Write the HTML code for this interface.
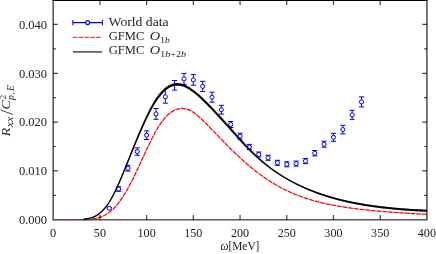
<!DOCTYPE html>
<html><head><meta charset="utf-8"><title>plot</title>
<style>html,body{margin:0;padding:0;background:#fff;}svg{display:block;}text{font-family:"Liberation Serif",serif;}</style>
</head><body>
<svg width="436" height="254" viewBox="0 0 436 254">
<rect x="0" y="0" width="436" height="254" fill="#fff"/>
<g stroke="#0000ff" stroke-width="1.0" fill="#fff">
<path d="M109.25,207.50 V209.10 M106.66,207.50 h5.2 M106.66,209.10 h5.2" fill="none"/>
<circle cx="109.25" cy="208.30" r="2.05"/>
<path d="M118.60,186.70 V191.30 M116.00,186.70 h5.2 M116.00,191.30 h5.2" fill="none"/>
<circle cx="118.60" cy="189.00" r="2.05"/>
<path d="M127.94,165.30 V171.10 M125.34,165.30 h5.2 M125.34,171.10 h5.2" fill="none"/>
<circle cx="127.94" cy="168.20" r="2.05"/>
<path d="M137.28,147.90 V155.30 M134.68,147.90 h5.2 M134.68,155.30 h5.2" fill="none"/>
<circle cx="137.28" cy="151.60" r="2.05"/>
<path d="M146.62,130.90 V139.50 M144.03,130.90 h5.2 M144.03,139.50 h5.2" fill="none"/>
<circle cx="146.62" cy="135.20" r="2.05"/>
<path d="M155.97,108.50 V119.30 M153.37,108.50 h5.2 M153.37,119.30 h5.2" fill="none"/>
<circle cx="155.97" cy="113.90" r="2.05"/>
<path d="M165.31,90.40 V103.20 M162.71,103.20 h5.2" fill="none"/>
<circle cx="165.31" cy="96.80" r="2.05"/>
<path d="M174.65,80.50 V90.10 M172.05,80.50 h5.2 M172.05,90.10 h5.2" fill="none"/>
<path d="M184.00,73.40 V84.40 M181.40,73.40 h5.2 M181.40,84.40 h5.2" fill="none"/>
<circle cx="184.00" cy="78.90" r="2.05"/>
<path d="M193.34,74.60 V85.20 M190.74,74.60 h5.2 M190.74,85.20 h5.2" fill="none"/>
<circle cx="193.34" cy="79.90" r="2.05"/>
<path d="M202.68,81.30 V91.50 M200.08,81.30 h5.2 M200.08,91.50 h5.2" fill="none"/>
<circle cx="202.68" cy="86.40" r="2.05"/>
<path d="M212.02,92.20 V102.20 M209.42,92.20 h5.2 M209.42,102.20 h5.2" fill="none"/>
<circle cx="212.02" cy="97.20" r="2.05"/>
<path d="M221.37,105.30 V114.10 M218.77,105.30 h5.2 M218.77,114.10 h5.2" fill="none"/>
<circle cx="221.37" cy="109.70" r="2.05"/>
<path d="M230.71,121.50 V127.50 M228.11,121.50 h5.2 M228.11,127.50 h5.2" fill="none"/>
<circle cx="230.71" cy="124.50" r="2.05"/>
<path d="M240.05,133.20 V139.20 M237.45,133.20 h5.2 M237.45,139.20 h5.2" fill="none"/>
<circle cx="240.05" cy="136.20" r="2.05"/>
<path d="M249.39,144.40 V149.60 M246.79,144.40 h5.2 M246.79,149.60 h5.2" fill="none"/>
<circle cx="249.39" cy="147.00" r="2.05"/>
<path d="M258.74,152.00 V157.00 M256.13,152.00 h5.2 M256.13,157.00 h5.2" fill="none"/>
<circle cx="258.74" cy="154.50" r="2.05"/>
<path d="M268.08,155.30 V160.30 M265.48,155.30 h5.2 M265.48,160.30 h5.2" fill="none"/>
<circle cx="268.08" cy="157.80" r="2.05"/>
<path d="M277.42,160.30 V165.30 M274.82,160.30 h5.2 M274.82,165.30 h5.2" fill="none"/>
<circle cx="277.42" cy="162.80" r="2.05"/>
<path d="M286.76,161.80 V166.80 M284.16,161.80 h5.2 M284.16,166.80 h5.2" fill="none"/>
<circle cx="286.76" cy="164.30" r="2.05"/>
<path d="M296.11,161.10 V166.10 M293.50,161.10 h5.2 M293.50,166.10 h5.2" fill="none"/>
<circle cx="296.11" cy="163.60" r="2.05"/>
<path d="M305.45,158.60 V163.60 M302.85,158.60 h5.2 M302.85,163.60 h5.2" fill="none"/>
<circle cx="305.45" cy="161.10" r="2.05"/>
<path d="M314.79,150.50 V155.90 M312.19,150.50 h5.2 M312.19,155.90 h5.2" fill="none"/>
<circle cx="314.79" cy="153.20" r="2.05"/>
<path d="M324.13,141.20 V147.20 M321.53,141.20 h5.2 M321.53,147.20 h5.2" fill="none"/>
<circle cx="324.13" cy="144.20" r="2.05"/>
<path d="M333.47,133.30 V141.30 M330.87,133.30 h5.2 M330.87,141.30 h5.2" fill="none"/>
<circle cx="333.47" cy="137.30" r="2.05"/>
<path d="M342.82,125.30 V133.90 M340.22,125.30 h5.2 M340.22,133.90 h5.2" fill="none"/>
<circle cx="342.82" cy="129.60" r="2.05"/>
<path d="M352.16,110.30 V119.30 M349.56,110.30 h5.2 M349.56,119.30 h5.2" fill="none"/>
<circle cx="352.16" cy="114.80" r="2.05"/>
<path d="M361.50,96.90 V106.90 M358.90,96.90 h5.2 M358.90,106.90 h5.2" fill="none"/>
<circle cx="361.50" cy="101.90" r="2.05"/>
</g>
<path d="M53.2,220.25 H92.30" fill="none" stroke="#ff0000" stroke-width="0.8" stroke-opacity="0.35"/>
<path d="M92.30,218.94 L92.97,218.84 L93.64,218.74 L94.31,218.63 L94.98,218.51 L95.65,218.38 L96.32,218.23 L96.99,218.08 L97.66,217.91 L98.33,217.73 L99.01,217.53 L99.68,217.32 L100.35,217.10 L101.02,216.86 L101.69,216.60 L102.36,216.32 L103.03,216.03 L103.70,215.72 L104.37,215.39 L105.04,215.04 L105.71,214.67 L106.38,214.28 L107.05,213.86 L107.72,213.43 L108.39,212.97 L109.06,212.48 L109.73,211.98 L110.40,211.45 L111.08,210.89 L111.75,210.32 L112.42,209.71 L113.09,209.08 L113.76,208.42 L114.43,207.74 L115.10,207.03 L115.77,206.30 L116.44,205.54 L117.11,204.75 L117.78,203.93 L118.45,203.09 L119.12,202.22 L119.79,201.32 L120.46,200.40 L121.13,199.44 L121.80,198.47 L122.47,197.46 L123.14,196.43 L123.82,195.37 L124.49,194.29 L125.16,193.18 L125.83,192.05 L126.50,190.89 L127.17,189.71 L127.84,188.51 L128.51,187.29 L129.18,186.05 L129.85,184.78 L130.52,183.50 L131.19,182.20 L131.86,180.89 L132.53,179.55 L133.20,178.21 L133.87,176.84 L134.54,175.47 L135.21,174.08 L135.89,172.69 L136.56,171.28 L137.23,169.86 L137.90,168.44 L138.57,167.01 L139.24,165.58 L139.91,164.14 L140.58,162.69 L141.25,161.25 L141.92,159.80 L142.59,158.36 L143.26,156.91 L143.93,155.47 L144.60,154.03 L145.27,152.59 L145.94,151.16 L146.61,149.73 L147.28,148.30 L147.95,146.89 L148.63,145.48 L149.30,144.08 L149.97,142.69 L150.64,141.31 L151.31,139.95 L151.98,138.60 L152.65,137.27 L153.32,135.96 L153.99,134.68 L154.66,133.42 L155.33,132.20 L156.00,130.99 L156.67,129.82 L157.34,128.68 L158.01,127.56 L158.68,126.48 L159.35,125.43 L160.02,124.41 L160.70,123.42 L161.37,122.46 L162.04,121.54 L162.71,120.65 L163.38,119.79 L164.05,118.97 L164.72,118.18 L165.39,117.42 L166.06,116.69 L166.73,116.00 L167.40,115.34 L168.07,114.71 L168.74,114.11 L169.41,113.54 L170.08,113.01 L170.75,112.50 L171.42,112.03 L172.09,111.58 L172.76,111.16 L173.44,110.78 L174.11,110.42 L174.78,110.09 L175.45,109.79 L176.12,109.52 L176.79,109.27 L177.46,109.06 L178.13,108.88 L178.80,108.73 L179.47,108.60 L180.14,108.51 L180.81,108.45 L181.48,108.41 L182.15,108.41 L182.82,108.43 L183.49,108.48 L184.16,108.56 L184.83,108.67 L185.51,108.80 L186.18,108.97 L186.85,109.16 L187.52,109.38 L188.19,109.62 L188.86,109.89 L189.53,110.19 L190.20,110.51 L190.87,110.86 L191.54,111.23 L192.21,111.63 L192.88,112.05 L193.55,112.49 L194.22,112.96 L194.89,113.45 L195.56,113.96 L196.23,114.48 L196.90,115.03 L197.57,115.59 L198.25,116.16 L198.92,116.75 L199.59,117.35 L200.26,117.97 L200.93,118.59 L201.60,119.23 L202.27,119.87 L202.94,120.52 L203.61,121.17 L204.28,121.83 L204.95,122.50 L205.62,123.17 L206.29,123.84 L206.96,124.51 L207.63,125.19 L208.30,125.87 L208.97,126.55 L209.64,127.24 L210.32,127.92 L210.99,128.61 L211.66,129.30 L212.33,129.99 L213.00,130.68 L213.67,131.37 L214.34,132.06 L215.01,132.76 L215.68,133.45 L216.35,134.14 L217.02,134.84 L217.69,135.53 L218.36,136.23 L219.03,136.92 L219.70,137.61 L220.37,138.30 L221.04,139.00 L221.71,139.69 L222.38,140.38 L223.06,141.06 L223.73,141.75 L224.40,142.44 L225.07,143.12 L225.74,143.80 L226.41,144.48 L227.08,145.16 L227.75,145.84 L228.42,146.51 L229.09,147.19 L229.76,147.86 L230.43,148.52 L231.10,149.19 L231.77,149.85 L232.44,150.51 L233.11,151.16 L233.78,151.82 L234.45,152.47 L235.13,153.12 L235.80,153.76 L236.47,154.40 L237.14,155.04 L237.81,155.67 L238.48,156.30 L239.15,156.93 L239.82,157.55 L240.49,158.17 L241.16,158.79 L241.83,159.40 L242.50,160.01 L243.17,160.61 L243.84,161.22 L244.51,161.81 L245.18,162.40 L245.85,162.99 L246.52,163.58 L247.19,164.16 L247.87,164.73 L248.54,165.31 L249.21,165.87 L249.88,166.44 L250.55,166.99 L251.22,167.55 L251.89,168.10 L252.56,168.65 L253.23,169.19 L253.90,169.72 L254.57,170.26 L255.24,170.78 L255.91,171.31 L256.58,171.83 L257.25,172.34 L257.92,172.85 L258.59,173.36 L259.26,173.86 L259.94,174.35 L260.61,174.84 L261.28,175.33 L261.95,175.81 L262.62,176.29 L263.29,176.77 L263.96,177.24 L264.63,177.70 L265.30,178.16 L265.97,178.62 L266.64,179.07 L267.31,179.51 L267.98,179.95 L268.65,180.39 L269.32,180.83 L269.99,181.25 L270.66,181.68 L271.33,182.10 L272.01,182.51 L272.68,182.92 L273.35,183.33 L274.02,183.73 L274.69,184.13 L275.36,184.52 L276.03,184.91 L276.70,185.30 L277.37,185.68 L278.04,186.05 L278.71,186.43 L279.38,186.79 L280.05,187.16 L280.72,187.52 L281.39,187.87 L282.06,188.22 L282.73,188.57 L283.40,188.91 L284.07,189.25 L284.75,189.59 L285.42,189.92 L286.09,190.25 L286.76,190.57 L287.43,190.89 L288.10,191.21 L288.77,191.52 L289.44,191.83 L290.11,192.13 L290.78,192.43 L291.45,192.73 L292.12,193.02 L292.79,193.31 L293.46,193.60 L294.13,193.88 L294.80,194.16 L295.47,194.43 L296.14,194.71 L296.82,194.97 L297.49,195.24 L298.16,195.50 L298.83,195.76 L299.50,196.01 L300.17,196.26 L300.84,196.51 L301.51,196.76 L302.18,197.00 L302.85,197.24 L303.52,197.47 L304.19,197.71 L304.86,197.93 L305.53,198.16 L306.20,198.38 L306.87,198.60 L307.54,198.82 L308.21,199.04 L308.88,199.25 L309.56,199.45 L310.23,199.66 L310.90,199.86 L311.57,200.06 L312.24,200.26 L312.91,200.45 L313.58,200.65 L314.25,200.83 L314.92,201.02 L315.59,201.20 L316.26,201.38 L316.93,201.56 L317.60,201.74 L318.27,201.91 L318.94,202.08 L319.61,202.25 L320.28,202.42 L320.95,202.58 L321.63,202.74 L322.30,202.90 L322.97,203.06 L323.64,203.22 L324.31,203.37 L324.98,203.52 L325.65,203.67 L326.32,203.82 L326.99,203.96 L327.66,204.10 L328.33,204.24 L329.00,204.38 L329.67,204.52 L330.34,204.66 L331.01,204.79 L331.68,204.92 L332.35,205.05 L333.02,205.18 L333.69,205.31 L334.37,205.43 L335.04,205.56 L335.71,205.68 L336.38,205.80 L337.05,205.92 L337.72,206.04 L338.39,206.15 L339.06,206.27 L339.73,206.38 L340.40,206.49 L341.07,206.60 L341.74,206.71 L342.41,206.82 L343.08,206.92 L343.75,207.03 L344.42,207.13 L345.09,207.24 L345.76,207.34 L346.44,207.44 L347.11,207.54 L347.78,207.63 L348.45,207.73 L349.12,207.83 L349.79,207.92 L350.46,208.01 L351.13,208.11 L351.80,208.20 L352.47,208.29 L353.14,208.38 L353.81,208.47 L354.48,208.55 L355.15,208.64 L355.82,208.72 L356.49,208.81 L357.16,208.89 L357.83,208.97 L358.50,209.05 L359.18,209.14 L359.85,209.21 L360.52,209.29 L361.19,209.37 L361.86,209.45 L362.53,209.53 L363.20,209.60 L363.87,209.68 L364.54,209.75 L365.21,209.82 L365.88,209.89 L366.55,209.97 L367.22,210.04 L367.89,210.11 L368.56,210.18 L369.23,210.25 L369.90,210.31 L370.57,210.38 L371.25,210.45 L371.92,210.51 L372.59,210.58 L373.26,210.64 L373.93,210.71 L374.60,210.77 L375.27,210.83 L375.94,210.90 L376.61,210.96 L377.28,211.02 L377.95,211.08 L378.62,211.14 L379.29,211.20 L379.96,211.26 L380.63,211.32 L381.30,211.37 L381.97,211.43 L382.64,211.49 L383.31,211.54 L383.99,211.60 L384.66,211.65 L385.33,211.71 L386.00,211.76 L386.67,211.82 L387.34,211.87 L388.01,211.92 L388.68,211.97 L389.35,212.03 L390.02,212.08 L390.69,212.13 L391.36,212.18 L392.03,212.23 L392.70,212.28 L393.37,212.33 L394.04,212.38 L394.71,212.43 L395.38,212.47 L396.06,212.52 L396.73,212.57 L397.40,212.62 L398.07,212.66 L398.74,212.71 L399.41,212.75 L400.08,212.80 L400.75,212.85 L401.42,212.89 L402.09,212.93 L402.76,212.98 L403.43,213.02 L404.10,213.07 L404.77,213.11 L405.44,213.15 L406.11,213.19 L406.78,213.24 L407.45,213.28 L408.12,213.32 L408.80,213.36 L409.47,213.40 L410.14,213.44 L410.81,213.48 L411.48,213.52 L412.15,213.56 L412.82,213.60 L413.49,213.64 L414.16,213.68 L414.83,213.72 L415.50,213.76 L416.17,213.80 L416.84,213.84 L417.51,213.87 L418.18,213.91 L418.85,213.95 L419.52,213.98 L420.19,214.02 L420.87,214.06 L421.54,214.09 L422.21,214.13 L422.88,214.17 L423.55,214.20 L424.22,214.24 L424.89,214.27 L425.56,214.31 L426.23,214.34 L426.90,214.38" fill="none" stroke="#ff0000" stroke-width="1.15" stroke-dasharray="4.6 1.1"/>
<path d="M92.30,218.94 L92.97,218.84 L93.64,218.74 L94.31,218.63 L94.98,218.51 L95.65,218.38 L96.32,218.23 L96.99,218.08 L97.66,217.91 L98.33,217.73 L99.01,217.53 L99.68,217.32 L100.35,217.10 L101.02,216.86 L101.69,216.60 L102.36,216.32 L103.03,216.03 L103.70,215.72 L104.37,215.39 L105.04,215.04 L105.71,214.67 L106.38,214.28 L107.05,213.86 L107.72,213.43 L108.39,212.97 L109.06,212.48 L109.73,211.98 L110.40,211.45 L111.08,210.89 L111.75,210.32 L112.42,209.71 L113.09,209.08 L113.76,208.42 L114.43,207.74 L115.10,207.03 L115.77,206.30 L116.44,205.54 L117.11,204.75 L117.78,203.93 L118.45,203.09 L119.12,202.22 L119.79,201.32 L120.46,200.40 L121.13,199.44 L121.80,198.47 L122.47,197.46 L123.14,196.43 L123.82,195.37 L124.49,194.29 L125.16,193.18 L125.83,192.05 L126.50,190.89 L127.17,189.71 L127.84,188.51 L128.51,187.29 L129.18,186.05 L129.85,184.78 L130.52,183.50 L131.19,182.20 L131.86,180.89 L132.53,179.55 L133.20,178.21 L133.87,176.84 L134.54,175.47 L135.21,174.08 L135.89,172.69 L136.56,171.28 L137.23,169.86 L137.90,168.44 L138.57,167.01 L139.24,165.58 L139.91,164.14 L140.58,162.69 L141.25,161.25 L141.92,159.80 L142.59,158.36 L143.26,156.91 L143.93,155.47 L144.60,154.03 L145.27,152.59 L145.94,151.16 L146.61,149.73 L147.28,148.30 L147.95,146.89 L148.63,145.48 L149.30,144.08 L149.97,142.69 L150.64,141.31 L151.31,139.95 L151.98,138.60 L152.65,137.27 L153.32,135.96 L153.99,134.68 L154.66,133.42 L155.33,132.20 L156.00,130.99 L156.67,129.82 L157.34,128.68 L158.01,127.56 L158.68,126.48 L159.35,125.43 L160.02,124.41 L160.70,123.42 L161.37,122.46 L162.04,121.54 L162.71,120.65 L163.38,119.79 L164.05,118.97 L164.72,118.18 L165.39,117.42 L166.06,116.69 L166.73,116.00 L167.40,115.34 L168.07,114.71 L168.74,114.11 L169.41,113.54 L170.08,113.01 L170.75,112.50 L171.42,112.03 L172.09,111.58 L172.76,111.16 L173.44,110.78 L174.11,110.42 L174.78,110.09 L175.45,109.79 L176.12,109.52 L176.79,109.27 L177.46,109.06 L178.13,108.88 L178.80,108.73 L179.47,108.60 L180.14,108.51 L180.81,108.45 L181.48,108.41 L182.15,108.41 L182.82,108.43 L183.49,108.48 L184.16,108.56 L184.83,108.67 L185.51,108.80 L186.18,108.97 L186.85,109.16 L187.52,109.38 L188.19,109.62 L188.86,109.89 L189.53,110.19 L190.20,110.51 L190.87,110.86 L191.54,111.23 L192.21,111.63 L192.88,112.05 L193.55,112.49 L194.22,112.96 L194.89,113.45 L195.56,113.96 L196.23,114.48 L196.90,115.03 L197.57,115.59 L198.25,116.16 L198.92,116.75 L199.59,117.35 L200.26,117.97 L200.93,118.59 L201.60,119.23 L202.27,119.87 L202.94,120.52 L203.61,121.17 L204.28,121.83 L204.95,122.50 L205.62,123.17 L206.29,123.84 L206.96,124.51 L207.63,125.19 L208.30,125.87 L208.97,126.55 L209.64,127.24 L210.32,127.92 L210.99,128.61 L211.66,129.30 L212.33,129.99 L213.00,130.68 L213.67,131.37 L214.34,132.06 L215.01,132.76 L215.68,133.45 L216.35,134.14 L217.02,134.84 L217.69,135.53 L218.36,136.23 L219.03,136.92 L219.70,137.61 L220.37,138.30 L221.04,139.00 L221.71,139.69 L222.38,140.38 L223.06,141.06 L223.73,141.75 L224.40,142.44 L225.07,143.12 L225.74,143.80 L226.41,144.48 L227.08,145.16 L227.75,145.84 L228.42,146.51 L229.09,147.19 L229.76,147.86 L230.43,148.52 L231.10,149.19 L231.77,149.85 L232.44,150.51 L233.11,151.16 L233.78,151.82 L234.45,152.47 L235.13,153.12 L235.80,153.76 L236.47,154.40 L237.14,155.04 L237.81,155.67 L238.48,156.30 L239.15,156.93 L239.82,157.55 L240.49,158.17 L241.16,158.79 L241.83,159.40 L242.50,160.01 L243.17,160.61 L243.84,161.22 L244.51,161.81 L245.18,162.40 L245.85,162.99 L246.52,163.58 L247.19,164.16 L247.87,164.73 L248.54,165.31 L249.21,165.87 L249.88,166.44 L250.55,166.99 L251.22,167.55 L251.89,168.10 L252.56,168.65 L253.23,169.19 L253.90,169.72 L254.57,170.26 L255.24,170.78 L255.91,171.31 L256.58,171.83 L257.25,172.34 L257.92,172.85 L258.59,173.36 L259.26,173.86 L259.94,174.35 L260.61,174.84 L261.28,175.33 L261.95,175.81 L262.62,176.29 L263.29,176.77 L263.96,177.24 L264.63,177.70 L265.30,178.16 L265.97,178.62 L266.64,179.07 L267.31,179.51 L267.98,179.95 L268.65,180.39 L269.32,180.83 L269.99,181.25 L270.66,181.68 L271.33,182.10 L272.01,182.51 L272.68,182.92 L273.35,183.33 L274.02,183.73 L274.69,184.13 L275.36,184.52 L276.03,184.91 L276.70,185.30 L277.37,185.68 L278.04,186.05 L278.71,186.43 L279.38,186.79 L280.05,187.16 L280.72,187.52 L281.39,187.87 L282.06,188.22 L282.73,188.57 L283.40,188.91 L284.07,189.25 L284.75,189.59 L285.42,189.92 L286.09,190.25 L286.76,190.57 L287.43,190.89 L288.10,191.21 L288.77,191.52 L289.44,191.83 L290.11,192.13 L290.78,192.43 L291.45,192.73 L292.12,193.02 L292.79,193.31 L293.46,193.60 L294.13,193.88 L294.80,194.16 L295.47,194.43 L296.14,194.71 L296.82,194.97 L297.49,195.24 L298.16,195.50 L298.83,195.76 L299.50,196.01 L300.17,196.26 L300.84,196.51 L301.51,196.76 L302.18,197.00 L302.85,197.24 L303.52,197.47 L304.19,197.71 L304.86,197.93 L305.53,198.16 L306.20,198.38 L306.87,198.60 L307.54,198.82 L308.21,199.04 L308.88,199.25 L309.56,199.45 L310.23,199.66 L310.90,199.86 L311.57,200.06 L312.24,200.26 L312.91,200.45 L313.58,200.65 L314.25,200.83 L314.92,201.02 L315.59,201.20 L316.26,201.38 L316.93,201.56 L317.60,201.74 L318.27,201.91 L318.94,202.08 L319.61,202.25 L320.28,202.42 L320.95,202.58 L321.63,202.74 L322.30,202.90 L322.97,203.06 L323.64,203.22 L324.31,203.37 L324.98,203.52 L325.65,203.67 L326.32,203.82 L326.99,203.96 L327.66,204.10 L328.33,204.24 L329.00,204.38 L329.67,204.52 L330.34,204.66 L331.01,204.79 L331.68,204.92 L332.35,205.05 L333.02,205.18 L333.69,205.31 L334.37,205.43 L335.04,205.56 L335.71,205.68 L336.38,205.80 L337.05,205.92 L337.72,206.04 L338.39,206.15 L339.06,206.27 L339.73,206.38 L340.40,206.49 L341.07,206.60 L341.74,206.71 L342.41,206.82 L343.08,206.92 L343.75,207.03 L344.42,207.13 L345.09,207.24 L345.76,207.34 L346.44,207.44 L347.11,207.54 L347.78,207.63 L348.45,207.73 L349.12,207.83 L349.79,207.92 L350.46,208.01 L351.13,208.11 L351.80,208.20 L352.47,208.29 L353.14,208.38 L353.81,208.47 L354.48,208.55 L355.15,208.64 L355.82,208.72 L356.49,208.81 L357.16,208.89 L357.83,208.97 L358.50,209.05 L359.18,209.14 L359.85,209.21 L360.52,209.29 L361.19,209.37 L361.86,209.45 L362.53,209.53 L363.20,209.60 L363.87,209.68 L364.54,209.75 L365.21,209.82 L365.88,209.89 L366.55,209.97 L367.22,210.04 L367.89,210.11 L368.56,210.18 L369.23,210.25 L369.90,210.31 L370.57,210.38 L371.25,210.45 L371.92,210.51 L372.59,210.58 L373.26,210.64 L373.93,210.71 L374.60,210.77 L375.27,210.83 L375.94,210.90 L376.61,210.96 L377.28,211.02 L377.95,211.08 L378.62,211.14 L379.29,211.20 L379.96,211.26 L380.63,211.32 L381.30,211.37 L381.97,211.43 L382.64,211.49 L383.31,211.54 L383.99,211.60 L384.66,211.65 L385.33,211.71 L386.00,211.76 L386.67,211.82 L387.34,211.87 L388.01,211.92 L388.68,211.97 L389.35,212.03 L390.02,212.08 L390.69,212.13 L391.36,212.18 L392.03,212.23 L392.70,212.28 L393.37,212.33 L394.04,212.38 L394.71,212.43 L395.38,212.47 L396.06,212.52 L396.73,212.57 L397.40,212.62 L398.07,212.66 L398.74,212.71 L399.41,212.75 L400.08,212.80 L400.75,212.85 L401.42,212.89 L402.09,212.93 L402.76,212.98 L403.43,213.02 L404.10,213.07 L404.77,213.11 L405.44,213.15 L406.11,213.19 L406.78,213.24 L407.45,213.28 L408.12,213.32 L408.80,213.36 L409.47,213.40 L410.14,213.44 L410.81,213.48 L411.48,213.52 L412.15,213.56 L412.82,213.60 L413.49,213.64 L414.16,213.68 L414.83,213.72 L415.50,213.76 L416.17,213.80 L416.84,213.84 L417.51,213.87 L418.18,213.91 L418.85,213.95 L419.52,213.98 L420.19,214.02 L420.87,214.06 L421.54,214.09 L422.21,214.13 L422.88,214.17 L423.55,214.20 L424.22,214.24 L424.89,214.27 L425.56,214.31 L426.23,214.34 L426.90,214.38" fill="none" stroke="#ff0000" stroke-width="1.15" stroke-opacity="0.3"/>
<path d="M83.24,218.67 L83.93,218.60 L84.61,218.53 L85.29,218.44 L85.97,218.35 L86.64,218.24 L87.32,218.12 L88.00,217.99 L88.68,217.85 L89.35,217.69 L90.03,217.51 L90.70,217.32 L91.38,217.11 L92.05,216.88 L92.72,216.63 L93.40,216.36 L94.07,216.07 L94.74,215.75 L95.41,215.40 L96.08,215.03 L96.76,214.63 L97.43,214.21 L98.10,213.75 L98.78,213.25 L99.45,212.73 L100.12,212.17 L100.80,211.58 L101.48,210.95 L102.15,210.28 L102.83,209.57 L103.51,208.82 L104.19,208.04 L104.87,207.21 L105.55,206.35 L106.23,205.44 L106.91,204.49 L107.59,203.50 L108.27,202.47 L108.96,201.40 L109.63,200.28 L110.31,199.13 L110.99,197.93 L111.67,196.70 L112.34,195.43 L113.02,194.12 L113.70,192.78 L114.38,191.40 L115.06,189.99 L115.74,188.55 L116.42,187.08 L117.10,185.58 L117.78,184.05 L118.46,182.50 L119.14,180.92 L119.82,179.32 L120.50,177.70 L121.18,176.07 L121.86,174.41 L122.54,172.75 L123.23,171.07 L123.91,169.38 L124.59,167.68 L125.27,165.97 L125.95,164.25 L126.63,162.54 L127.31,160.82 L128.00,159.10 L128.68,157.38 L129.36,155.66 L130.04,153.94 L130.72,152.23 L131.41,150.53 L132.09,148.83 L132.77,147.13 L133.45,145.45 L134.13,143.77 L134.82,142.10 L135.50,140.45 L136.18,138.80 L136.86,137.15 L137.53,135.52 L138.21,133.89 L138.88,132.27 L139.55,130.67 L140.23,129.07 L140.90,127.48 L141.58,125.91 L142.25,124.36 L142.92,122.81 L143.60,121.29 L144.27,119.78 L144.95,118.30 L145.63,116.83 L146.30,115.39 L146.98,113.96 L147.66,112.56 L148.33,111.19 L149.01,109.84 L149.69,108.51 L150.37,107.22 L151.07,105.96 L151.76,104.72 L152.46,103.52 L153.15,102.35 L153.85,101.20 L154.55,100.09 L155.24,99.01 L155.94,97.96 L156.64,96.95 L157.34,95.97 L158.05,95.02 L158.75,94.11 L159.45,93.23 L160.16,92.39 L160.88,91.58 L161.59,90.81 L162.30,90.08 L163.02,89.38 L163.74,88.72 L164.46,88.10 L165.18,87.51 L165.91,86.95 L166.63,86.44 L167.36,85.95 L168.09,85.51 L168.82,85.10 L169.55,84.73 L170.29,84.39 L171.02,84.09 L171.76,83.83 L172.50,83.60 L173.24,83.41 L173.98,83.25 L174.72,83.13 L175.46,83.04 L176.19,82.99 L176.93,82.97 L177.67,82.98 L178.40,83.03 L179.13,83.10 L179.86,83.21 L180.59,83.33 L181.32,83.49 L182.04,83.67 L182.77,83.89 L183.49,84.12 L184.21,84.38 L184.92,84.67 L185.64,84.98 L186.35,85.31 L187.07,85.67 L187.78,86.04 L188.48,86.44 L189.19,86.85 L189.90,87.28 L190.60,87.74 L191.31,88.20 L192.01,88.69 L192.71,89.19 L193.41,89.70 L194.11,90.23 L194.81,90.76 L195.52,91.31 L196.22,91.87 L196.92,92.44 L197.62,93.03 L198.32,93.62 L199.02,94.23 L199.72,94.85 L200.42,95.47 L201.12,96.11 L201.82,96.75 L202.52,97.41 L203.22,98.07 L203.92,98.73 L204.62,99.41 L205.31,100.09 L206.01,100.77 L206.71,101.46 L207.41,102.16 L208.10,102.86 L208.80,103.57 L209.49,104.28 L210.19,104.99 L210.89,105.71 L211.58,106.42 L212.28,107.14 L212.97,107.87 L213.67,108.59 L214.36,109.32 L215.05,110.05 L215.75,110.79 L216.44,111.52 L217.13,112.26 L217.83,113.00 L218.52,113.74 L219.21,114.49 L219.91,115.24 L220.60,115.98 L221.29,116.73 L221.99,117.49 L222.68,118.24 L223.37,119.00 L224.07,119.76 L224.76,120.52 L225.45,121.28 L226.15,122.04 L226.84,122.81 L227.53,123.57 L228.23,124.34 L228.92,125.11 L229.61,125.88 L230.30,126.65 L231.00,127.42 L231.69,128.20 L232.38,128.97 L233.08,129.75 L233.77,130.53 L234.46,131.30 L235.15,132.08 L235.85,132.86 L236.54,133.63 L237.23,134.41 L237.92,135.18 L238.61,135.95 L239.30,136.72 L239.99,137.48 L240.68,138.24 L241.37,139.00 L242.05,139.77 L242.73,140.53 L243.40,141.29 L244.08,142.04 L244.76,142.79 L245.44,143.54 L246.12,144.28 L246.80,145.01 L247.47,145.74 L248.15,146.46 L248.83,147.18 L249.51,147.89 L250.18,148.60 L250.86,149.30 L251.54,149.99 L252.21,150.68 L252.89,151.36 L253.57,152.03 L254.24,152.70 L254.92,153.36 L255.60,154.02 L256.28,154.67 L256.95,155.31 L257.63,155.95 L258.31,156.58 L258.98,157.20 L259.66,157.82 L260.34,158.43 L261.02,159.04 L261.69,159.64 L262.37,160.23 L263.05,160.82 L263.73,161.40 L264.40,161.98 L265.08,162.54 L265.76,163.11 L266.44,163.66 L267.12,164.21 L267.80,164.76 L268.48,165.30 L269.16,165.83 L269.83,166.36 L270.51,166.88 L271.19,167.40 L271.87,167.91 L272.55,168.42 L273.23,168.92 L273.91,169.42 L274.59,169.91 L275.27,170.39 L275.95,170.87 L276.63,171.35 L277.31,171.82 L277.99,172.28 L278.67,172.75 L279.35,173.20 L280.03,173.65 L280.71,174.10 L281.39,174.54 L282.07,174.98 L282.75,175.41 L283.43,175.84 L284.11,176.27 L284.79,176.69 L285.47,177.10 L286.15,177.51 L286.83,177.92 L287.52,178.32 L288.20,178.71 L288.89,179.10 L289.58,179.48 L290.26,179.86 L290.95,180.23 L291.63,180.60 L292.32,180.97 L293.01,181.33 L293.69,181.69 L294.38,182.04 L295.06,182.39 L295.75,182.74 L296.44,183.08 L297.12,183.42 L297.81,183.76 L298.49,184.09 L299.18,184.42 L299.87,184.75 L300.55,185.07 L301.24,185.39 L301.92,185.71 L302.61,186.02 L303.30,186.33 L303.98,186.64 L304.67,186.94 L305.36,187.24 L306.04,187.54 L306.73,187.83 L307.41,188.12 L308.10,188.41 L308.79,188.69 L309.47,188.97 L310.16,189.25 L310.84,189.53 L311.53,189.80 L312.22,190.07 L312.90,190.34 L313.59,190.60 L314.27,190.86 L314.96,191.12 L315.65,191.37 L316.33,191.63 L317.02,191.88 L317.70,192.12 L318.39,192.37 L319.08,192.61 L319.76,192.85 L320.45,193.09 L321.13,193.32 L321.82,193.56 L322.50,193.79 L323.19,194.01 L323.88,194.24 L324.56,194.46 L325.25,194.68 L325.93,194.89 L326.62,195.11 L327.31,195.32 L327.99,195.53 L328.68,195.74 L329.36,195.94 L330.05,196.15 L330.74,196.35 L331.42,196.55 L332.11,196.74 L332.79,196.94 L333.48,197.13 L334.17,197.32 L334.85,197.50 L335.54,197.69 L336.23,197.87 L336.91,198.05 L337.60,198.23 L338.28,198.41 L338.97,198.59 L339.66,198.76 L340.34,198.93 L341.03,199.10 L341.72,199.27 L342.40,199.43 L343.09,199.59 L343.78,199.76 L344.46,199.92 L345.15,200.07 L345.84,200.23 L346.52,200.38 L347.21,200.54 L347.89,200.69 L348.58,200.83 L349.27,200.98 L349.95,201.13 L350.64,201.27 L351.33,201.41 L352.01,201.55 L352.70,201.69 L353.39,201.83 L354.07,201.96 L354.76,202.10 L355.45,202.23 L356.13,202.36 L356.82,202.49 L357.51,202.62 L358.19,202.74 L358.88,202.87 L359.57,202.99 L360.26,203.11 L360.94,203.23 L361.63,203.35 L362.32,203.47 L363.00,203.58 L363.69,203.70 L364.38,203.81 L365.06,203.92 L365.75,204.03 L366.44,204.14 L367.12,204.25 L367.81,204.35 L368.50,204.46 L369.19,204.56 L369.87,204.67 L370.56,204.77 L371.25,204.87 L371.93,204.96 L372.62,205.06 L373.31,205.16 L374.00,205.25 L374.68,205.35 L375.37,205.44 L376.06,205.53 L376.74,205.62 L377.43,205.71 L378.12,205.80 L378.81,205.88 L379.49,205.97 L380.18,206.05 L380.87,206.14 L381.55,206.22 L382.24,206.30 L382.93,206.38 L383.62,206.46 L384.30,206.54 L384.99,206.62 L385.68,206.69 L386.37,206.77 L387.05,206.84 L387.74,206.91 L388.43,206.99 L389.12,207.06 L389.80,207.13 L390.49,207.20 L391.18,207.27 L391.86,207.33 L392.55,207.40 L393.24,207.46 L393.93,207.53 L394.61,207.59 L395.30,207.66 L395.99,207.72 L396.68,207.78 L397.36,207.84 L398.05,207.90 L398.74,207.96 L399.43,208.01 L400.11,208.07 L400.80,208.13 L401.49,208.18 L402.18,208.23 L402.86,208.29 L403.55,208.34 L404.24,208.39 L404.93,208.44 L405.62,208.49 L406.30,208.54 L406.99,208.59 L407.68,208.64 L408.37,208.68 L409.05,208.73 L409.74,208.78 L410.43,208.82 L411.12,208.86 L411.80,208.91 L412.49,208.95 L413.18,208.99 L413.87,209.03 L414.55,209.07 L415.24,209.11 L415.93,209.15 L416.62,209.19 L417.31,209.23 L417.99,209.26 L418.68,209.30 L419.37,209.33 L420.06,209.37 L420.74,209.40 L421.43,209.44 L422.12,209.47 L422.81,209.50 L423.50,209.53 L424.18,209.56 L424.87,209.59 L425.56,209.62 L426.25,209.65 L426.93,209.68 L426.85,211.78 L426.16,211.75 L425.47,211.72 L424.78,211.69 L424.09,211.66 L423.40,211.62 L422.71,211.59 L422.02,211.56 L421.33,211.53 L420.64,211.49 L419.95,211.46 L419.26,211.42 L418.57,211.38 L417.88,211.35 L417.19,211.31 L416.50,211.27 L415.81,211.23 L415.12,211.19 L414.43,211.15 L413.74,211.11 L413.05,211.07 L412.36,211.02 L411.68,210.98 L410.99,210.94 L410.30,210.89 L409.61,210.85 L408.92,210.80 L408.23,210.75 L407.54,210.70 L406.85,210.65 L406.16,210.60 L405.47,210.55 L404.78,210.50 L404.09,210.45 L403.40,210.40 L402.71,210.34 L402.02,210.29 L401.33,210.23 L400.64,210.18 L399.95,210.12 L399.26,210.06 L398.57,210.00 L397.88,209.95 L397.19,209.88 L396.50,209.82 L395.81,209.76 L395.12,209.70 L394.43,209.63 L393.74,209.57 L393.05,209.50 L392.36,209.44 L391.67,209.37 L390.98,209.30 L390.29,209.23 L389.60,209.16 L388.91,209.09 L388.22,209.02 L387.53,208.94 L386.84,208.87 L386.15,208.79 L385.46,208.72 L384.77,208.64 L384.08,208.56 L383.39,208.48 L382.69,208.40 L382.00,208.32 L381.31,208.24 L380.62,208.15 L379.93,208.07 L379.24,207.98 L378.55,207.89 L377.86,207.81 L377.17,207.72 L376.48,207.63 L375.79,207.54 L375.10,207.44 L374.41,207.35 L373.72,207.25 L373.03,207.16 L372.34,207.06 L371.65,206.96 L370.96,206.86 L370.27,206.76 L369.58,206.66 L368.89,206.55 L368.20,206.45 L367.51,206.34 L366.82,206.23 L366.13,206.12 L365.43,206.01 L364.74,205.90 L364.05,205.79 L363.36,205.67 L362.67,205.56 L361.98,205.44 L361.29,205.32 L360.60,205.20 L359.91,205.07 L359.22,204.95 L358.53,204.82 L357.84,204.69 L357.15,204.56 L356.46,204.42 L355.77,204.29 L355.08,204.15 L354.39,204.02 L353.70,203.88 L353.01,203.74 L352.32,203.60 L351.63,203.45 L350.94,203.31 L350.25,203.16 L349.56,203.01 L348.87,202.86 L348.18,202.71 L347.49,202.55 L346.80,202.40 L346.11,202.24 L345.42,202.08 L344.73,201.92 L344.04,201.76 L343.35,201.59 L342.66,201.42 L341.97,201.26 L341.28,201.08 L340.59,200.91 L339.90,200.74 L339.21,200.56 L338.52,200.38 L337.83,200.20 L337.14,200.02 L336.44,199.84 L335.75,199.65 L335.06,199.46 L334.37,199.27 L333.68,199.08 L332.99,198.88 L332.30,198.68 L331.61,198.48 L330.92,198.28 L330.23,198.08 L329.54,197.87 L328.85,197.66 L328.16,197.45 L327.47,197.24 L326.78,197.02 L326.09,196.80 L325.40,196.58 L324.71,196.36 L324.02,196.13 L323.33,195.91 L322.64,195.68 L321.95,195.44 L321.26,195.21 L320.57,194.97 L319.88,194.73 L319.19,194.49 L318.50,194.24 L317.81,193.99 L317.12,193.74 L316.43,193.49 L315.74,193.23 L315.05,192.97 L314.36,192.71 L313.67,192.44 L312.98,192.18 L312.29,191.91 L311.60,191.63 L310.91,191.36 L310.22,191.08 L309.53,190.80 L308.84,190.51 L308.15,190.22 L307.46,189.93 L306.77,189.64 L306.08,189.34 L305.39,189.04 L304.70,188.74 L304.01,188.43 L303.32,188.12 L302.63,187.80 L301.94,187.49 L301.25,187.17 L300.56,186.84 L299.87,186.52 L299.18,186.19 L298.49,185.85 L297.80,185.52 L297.11,185.18 L296.42,184.83 L295.73,184.48 L295.04,184.13 L294.36,183.78 L293.67,183.42 L292.98,183.06 L292.29,182.69 L291.60,182.32 L290.91,181.95 L290.22,181.57 L289.53,181.19 L288.84,180.80 L288.15,180.41 L287.46,180.02 L286.77,179.62 L286.08,179.22 L285.39,178.82 L284.69,178.42 L284.00,178.01 L283.31,177.59 L282.61,177.18 L281.92,176.75 L281.23,176.33 L280.53,175.89 L279.84,175.46 L279.15,175.02 L278.46,174.57 L277.76,174.12 L277.07,173.67 L276.38,173.20 L275.68,172.74 L274.99,172.27 L274.30,171.79 L273.60,171.31 L272.91,170.83 L272.22,170.33 L271.52,169.84 L270.83,169.34 L270.13,168.83 L269.44,168.31 L268.75,167.80 L268.05,167.27 L267.36,166.74 L266.67,166.21 L265.97,165.66 L265.28,165.12 L264.59,164.56 L263.89,164.00 L263.20,163.44 L262.50,162.87 L261.81,162.29 L261.11,161.71 L260.41,161.13 L259.72,160.53 L259.02,159.93 L258.32,159.33 L257.63,158.72 L256.93,158.10 L256.23,157.48 L255.54,156.84 L254.84,156.21 L254.14,155.56 L253.45,154.91 L252.75,154.26 L252.05,153.60 L251.36,152.93 L250.66,152.25 L249.96,151.57 L249.27,150.88 L248.57,150.19 L247.87,149.49 L247.18,148.78 L246.48,148.07 L245.78,147.35 L245.09,146.63 L244.39,145.90 L243.69,145.17 L243.00,144.43 L242.30,143.69 L241.61,142.94 L240.91,142.19 L240.21,141.43 L239.52,140.68 L238.82,139.91 L238.13,139.15 L237.44,138.38 L236.74,137.61 L236.05,136.84 L235.36,136.06 L234.66,135.29 L233.97,134.51 L233.28,133.74 L232.59,132.96 L231.89,132.18 L231.20,131.41 L230.51,130.63 L229.82,129.86 L229.13,129.08 L228.44,128.31 L227.74,127.54 L227.05,126.77 L226.36,126.01 L225.67,125.24 L224.98,124.47 L224.29,123.71 L223.60,122.95 L222.90,122.19 L222.21,121.43 L221.52,120.68 L220.83,119.92 L220.14,119.17 L219.45,118.42 L218.76,117.67 L218.07,116.93 L217.37,116.18 L216.68,115.44 L215.99,114.70 L215.30,113.96 L214.61,113.23 L213.92,112.50 L213.23,111.76 L212.54,111.04 L211.85,110.31 L211.16,109.59 L210.47,108.86 L209.78,108.14 L209.09,107.43 L208.40,106.71 L207.71,106.00 L207.02,105.29 L206.33,104.59 L205.64,103.89 L204.95,103.20 L204.27,102.51 L203.58,101.83 L202.89,101.16 L202.21,100.49 L201.52,99.83 L200.83,99.17 L200.15,98.53 L199.46,97.89 L198.78,97.27 L198.10,96.65 L197.41,96.05 L196.73,95.45 L196.05,94.87 L195.37,94.29 L194.69,93.73 L194.01,93.19 L193.33,92.65 L192.65,92.13 L191.97,91.63 L191.29,91.15 L190.61,90.69 L189.93,90.24 L189.25,89.81 L188.58,89.39 L187.91,89.00 L187.24,88.62 L186.57,88.27 L185.90,87.93 L185.24,87.62 L184.58,87.33 L183.93,87.06 L183.28,86.82 L182.63,86.60 L181.99,86.40 L181.35,86.23 L180.71,86.08 L180.08,85.96 L179.45,85.87 L178.83,85.78 L178.21,85.72 L177.59,85.67 L176.97,85.66 L176.35,85.67 L175.74,85.71 L175.12,85.78 L174.50,85.88 L173.88,86.00 L173.25,86.16 L172.62,86.35 L171.99,86.57 L171.36,86.82 L170.73,87.11 L170.08,87.43 L169.44,87.78 L168.79,88.17 L168.14,88.60 L167.49,89.06 L166.83,89.55 L166.17,90.09 L165.50,90.66 L164.84,91.27 L164.17,91.92 L163.49,92.60 L162.82,93.32 L162.14,94.08 L161.46,94.87 L160.76,95.69 L160.07,96.55 L159.37,97.44 L158.67,98.37 L157.97,99.34 L157.26,100.34 L156.56,101.37 L155.85,102.44 L155.15,103.54 L154.44,104.68 L153.73,105.85 L153.02,107.04 L152.31,108.27 L151.61,109.54 L150.92,110.83 L150.23,112.16 L149.54,113.51 L148.85,114.88 L148.15,116.28 L147.46,117.71 L146.77,119.15 L146.08,120.62 L145.38,122.11 L144.69,123.61 L143.99,125.14 L143.30,126.68 L142.61,128.23 L141.91,129.80 L141.22,131.38 L140.52,132.98 L139.83,134.58 L139.13,136.20 L138.44,137.82 L137.74,139.45 L137.05,141.09 L136.36,142.74 L135.67,144.41 L134.97,146.07 L134.28,147.75 L133.59,149.44 L132.90,151.13 L132.20,152.83 L131.51,154.54 L130.82,156.24 L130.13,157.96 L129.43,159.67 L128.74,161.39 L128.05,163.10 L127.35,164.82 L126.66,166.53 L125.97,168.23 L125.27,169.93 L124.58,171.62 L123.88,173.30 L123.19,174.96 L122.50,176.62 L121.80,178.25 L121.11,179.87 L120.41,181.47 L119.72,183.05 L119.02,184.61 L118.33,186.14 L117.64,187.64 L116.94,189.12 L116.24,190.56 L115.55,191.98 L114.85,193.36 L114.16,194.71 L113.46,196.02 L112.76,197.30 L112.07,198.54 L111.37,199.75 L110.67,200.91 L109.98,202.04 L109.28,203.12 L108.59,204.17 L107.89,205.18 L107.20,206.15 L106.50,207.08 L105.80,207.96 L105.10,208.81 L104.41,209.62 L103.71,210.39 L103.01,211.12 L102.31,211.81 L101.61,212.47 L100.90,213.08 L100.20,213.67 L99.50,214.21 L98.79,214.73 L98.09,215.21 L97.39,215.66 L96.68,216.07 L95.98,216.46 L95.27,216.82 L94.57,217.16 L93.86,217.47 L93.16,217.75 L92.45,218.01 L91.75,218.25 L91.05,218.47 L90.34,218.67 L89.64,218.85 L88.94,219.02 L88.24,219.17 L87.54,219.30 L86.84,219.42 L86.14,219.53 L85.45,219.63 L84.75,219.72 L84.05,219.80 L83.36,219.87Z" fill="#000" fill-opacity="0.5"/>
<path d="M83.24,218.67 L83.93,218.60 L84.61,218.53 L85.29,218.44 L85.97,218.35 L86.64,218.24 L87.32,218.12 L88.00,217.99 L88.68,217.85 L89.35,217.69 L90.03,217.51 L90.70,217.32 L91.38,217.11 L92.05,216.88 L92.72,216.63 L93.40,216.36 L94.07,216.07 L94.74,215.75 L95.41,215.40 L96.08,215.03 L96.76,214.63 L97.43,214.21 L98.10,213.75 L98.78,213.25 L99.45,212.73 L100.12,212.17 L100.80,211.58 L101.48,210.95 L102.15,210.28 L102.83,209.57 L103.51,208.82 L104.19,208.04 L104.87,207.21 L105.55,206.35 L106.23,205.44 L106.91,204.49 L107.59,203.50 L108.27,202.47 L108.96,201.40 L109.64,200.29 L110.32,199.13 L111.00,197.94 L111.68,196.71 L112.37,195.44 L113.05,194.14 L113.73,192.79 L114.42,191.42 L115.10,190.01 L115.79,188.57 L116.47,187.10 L117.16,185.60 L117.84,184.08 L118.52,182.53 L119.21,180.95 L119.89,179.35 L120.58,177.74 L121.27,176.10 L121.95,174.45 L122.64,172.78 L123.32,171.11 L124.01,169.42 L124.69,167.72 L125.38,166.01 L126.07,164.30 L126.75,162.59 L127.44,160.87 L128.12,159.15 L128.81,157.43 L129.50,155.71 L130.18,154.00 L130.87,152.29 L131.56,150.59 L132.24,148.89 L132.93,147.20 L133.62,145.52 L134.30,143.84 L134.99,142.18 L135.68,140.52 L136.36,138.87 L137.05,137.23 L137.74,135.60 L138.43,133.98 L139.11,132.37 L139.80,130.77 L140.49,129.18 L141.17,127.60 L141.86,126.04 L142.55,124.49 L143.24,122.96 L143.92,121.44 L144.61,119.94 L145.30,118.46 L145.99,117.00 L146.68,115.57 L147.36,114.15 L148.05,112.76 L148.74,111.40 L149.43,110.06 L150.12,108.74 L150.81,107.46 L151.50,106.20 L152.19,104.97 L152.89,103.77 L153.58,102.60 L154.27,101.47 L154.97,100.36 L155.66,99.29 L156.36,98.25 L157.05,97.24 L157.75,96.26 L158.44,95.32 L159.14,94.42 L159.84,93.55 L160.54,92.71 L161.24,91.91 L161.94,91.14 L162.64,90.41 L163.34,89.72 L164.05,89.06 L164.75,88.44 L165.46,87.85 L166.17,87.30 L166.88,86.79 L167.59,86.31 L168.30,85.87 L169.01,85.46 L169.73,85.09 L170.45,84.75 L171.16,84.45 L171.88,84.19 L172.60,83.96 L173.32,83.76 L174.05,83.60 L174.77,83.48 L175.49,83.38 L176.21,83.32 L176.94,83.30 L177.66,83.30 L178.38,83.34 L179.10,83.41 L179.82,83.50 L180.53,83.63 L181.25,83.78 L181.96,83.96 L182.68,84.17 L183.39,84.41 L184.10,84.66 L184.81,84.95 L185.52,85.25 L186.22,85.58 L186.93,85.93 L187.63,86.31 L188.34,86.70 L189.04,87.11 L189.74,87.54 L190.44,87.99 L191.14,88.45 L191.84,88.93 L192.53,89.43 L193.23,89.94 L193.93,90.47 L194.62,91.00 L195.32,91.56 L196.01,92.12 L196.71,92.70 L197.40,93.29 L198.10,93.89 L198.79,94.50 L199.48,95.12 L200.18,95.75 L200.87,96.38 L201.56,97.03 L202.25,97.69 L202.94,98.35 L203.64,99.02 L204.33,99.70 L205.02,100.38 L205.71,101.07 L206.40,101.77 L207.09,102.47 L207.78,103.18 L208.47,103.89 L209.16,104.60 L209.85,105.32 L210.54,106.04 L211.23,106.76 L211.92,107.48 L212.61,108.21 L213.30,108.94 L213.99,109.67 L214.68,110.41 L215.37,111.14 L216.06,111.88 L216.74,112.62 L217.43,113.37 L218.12,114.11 L218.81,114.86 L219.50,115.61 L220.19,116.36 L220.88,117.11 L221.57,117.87 L222.26,118.62 L222.95,119.38 L223.64,120.14 L224.33,120.91 L225.02,121.67 L225.70,122.44 L226.39,123.21 L227.08,123.97 L227.77,124.74 L228.46,125.52 L229.15,126.29 L229.84,127.07 L230.53,127.84 L231.22,128.62 L231.91,129.40 L232.59,130.18 L233.28,130.96 L233.97,131.74 L234.66,132.52 L235.35,133.30 L236.04,134.07 L236.73,134.85 L237.41,135.63 L238.10,136.40 L238.79,137.17 L239.48,137.94 L240.16,138.71 L240.85,139.47 L241.54,140.24 L242.22,140.99 L242.90,141.75 L243.59,142.50 L244.27,143.25 L244.95,143.99 L245.64,144.73 L246.32,145.46 L247.01,146.18 L247.69,146.91 L248.37,147.62 L249.06,148.33 L249.74,149.04 L250.42,149.73 L251.11,150.42 L251.79,151.11 L252.47,151.79 L253.16,152.46 L253.84,153.13 L254.52,153.78 L255.21,154.44 L255.89,155.08 L256.57,155.72 L257.25,156.36 L257.94,156.99 L258.62,157.61 L259.30,158.22 L259.99,158.83 L260.67,159.44 L261.35,160.03 L262.04,160.62 L262.72,161.21 L263.40,161.79 L264.09,162.36 L264.78,162.92 L265.46,163.48 L266.15,164.03 L266.83,164.58 L267.52,165.12 L268.21,165.65 L268.89,166.18 L269.58,166.70 L270.26,167.22 L270.95,167.73 L271.64,168.23 L272.32,168.73 L273.01,169.23 L273.69,169.72 L274.38,170.20 L275.07,170.68 L275.75,171.16 L276.44,171.63 L277.13,172.09 L277.81,172.55 L278.50,173.00 L279.18,173.45 L279.87,173.90 L280.56,174.34 L281.24,174.77 L281.93,175.21 L282.61,175.63 L283.30,176.05 L283.99,176.47 L284.67,176.88 L285.36,177.29 L286.05,177.70 L286.73,178.10 L287.42,178.49 L288.11,178.88 L288.79,179.26 L289.48,179.64 L290.17,180.02 L290.86,180.39 L291.55,180.76 L292.23,181.13 L292.92,181.49 L293.61,181.84 L294.30,182.20 L294.99,182.55 L295.67,182.89 L296.36,183.23 L297.05,183.57 L297.74,183.91 L298.42,184.24 L299.11,184.57 L299.80,184.89 L300.49,185.21 L301.18,185.53 L301.86,185.84 L302.55,186.15 L303.24,186.46 L303.93,186.77 L304.61,187.07 L305.30,187.36 L305.99,187.66 L306.68,187.95 L307.36,188.24 L308.05,188.52 L308.74,188.81 L309.43,189.09 L310.11,189.36 L310.80,189.63 L311.49,189.90 L312.18,190.17 L312.86,190.44 L313.55,190.70 L314.24,190.96 L314.93,191.21 L315.61,191.47 L316.30,191.72 L316.98,191.97 L317.67,192.22 L318.36,192.46 L319.04,192.71 L319.73,192.95 L320.41,193.18 L321.10,193.42 L321.79,193.65 L322.47,193.88 L323.16,194.11 L323.85,194.33 L324.53,194.55 L325.22,194.77 L325.90,194.99 L326.59,195.21 L327.28,195.42 L327.96,195.63 L328.65,195.83 L329.34,196.04 L330.02,196.24 L330.71,196.44 L331.39,196.64 L332.08,196.84 L332.77,197.03 L333.45,197.22 L334.14,197.41 L334.83,197.60 L335.51,197.79 L336.20,197.97 L336.89,198.15 L337.57,198.33 L338.26,198.51 L338.95,198.68 L339.63,198.86 L340.32,199.03 L341.01,199.20 L341.69,199.36 L342.38,199.53 L343.07,199.69 L343.75,199.85 L344.44,200.01 L345.13,200.17 L345.81,200.33 L346.50,200.48 L347.19,200.63 L347.87,200.78 L348.56,200.93 L349.25,201.08 L349.93,201.22 L350.62,201.37 L351.31,201.51 L351.99,201.65 L352.68,201.79 L353.37,201.93 L354.06,202.06 L354.74,202.20 L355.43,202.33 L356.12,202.46 L356.80,202.59 L357.49,202.71 L358.18,202.84 L358.86,202.97 L359.55,203.09 L360.24,203.21 L360.92,203.33 L361.61,203.45 L362.30,203.57 L362.99,203.68 L363.67,203.80 L364.36,203.91 L365.05,204.02 L365.73,204.13 L366.42,204.24 L367.11,204.35 L367.80,204.45 L368.48,204.56 L369.17,204.66 L369.86,204.76 L370.55,204.87 L371.23,204.97 L371.92,205.06 L372.61,205.16 L373.29,205.26 L373.98,205.35 L374.67,205.45 L375.36,205.54 L376.04,205.63 L376.73,205.72 L377.42,205.81 L378.11,205.90 L378.79,205.98 L379.48,206.07 L380.17,206.15 L380.86,206.24 L381.54,206.32 L382.23,206.40 L382.92,206.48 L383.60,206.56 L384.29,206.64 L384.98,206.72 L385.67,206.79 L386.35,206.87 L387.04,206.94 L387.73,207.01 L388.42,207.09 L389.10,207.16 L389.79,207.23 L390.48,207.30 L391.17,207.36 L391.86,207.43 L392.54,207.50 L393.23,207.56 L393.92,207.63 L394.61,207.69 L395.29,207.75 L395.98,207.82 L396.67,207.88 L397.36,207.94 L398.04,208.00 L398.73,208.05 L399.42,208.11 L400.11,208.17 L400.79,208.22 L401.48,208.28 L402.17,208.33 L402.86,208.39 L403.54,208.44 L404.23,208.49 L404.92,208.54 L405.61,208.59 L406.30,208.64 L406.98,208.69 L407.67,208.74 L408.36,208.78 L409.05,208.83 L409.73,208.88 L410.42,208.92 L411.11,208.96 L411.80,209.01 L412.49,209.05 L413.17,209.09 L413.86,209.13 L414.55,209.17 L415.24,209.21 L415.92,209.25 L416.61,209.29 L417.30,209.33 L417.99,209.36 L418.68,209.40 L419.36,209.43 L420.05,209.47 L420.74,209.50 L421.43,209.54 L422.12,209.57 L422.80,209.60 L423.49,209.63 L424.18,209.66 L424.87,209.69 L425.55,209.72 L426.24,209.75 L426.93,209.78 L426.85,211.68 L426.16,211.65 L425.47,211.62 L424.79,211.59 L424.10,211.56 L423.41,211.52 L422.72,211.49 L422.03,211.46 L421.34,211.43 L420.65,211.39 L419.96,211.36 L419.27,211.32 L418.58,211.28 L417.89,211.25 L417.20,211.21 L416.51,211.17 L415.82,211.13 L415.13,211.09 L414.44,211.05 L413.75,211.01 L413.06,210.97 L412.37,210.92 L411.68,210.88 L410.99,210.84 L410.30,210.79 L409.61,210.75 L408.92,210.70 L408.23,210.65 L407.54,210.60 L406.85,210.55 L406.16,210.51 L405.47,210.45 L404.78,210.40 L404.09,210.35 L403.40,210.30 L402.71,210.24 L402.02,210.19 L401.33,210.13 L400.65,210.08 L399.96,210.02 L399.27,209.96 L398.58,209.91 L397.89,209.85 L397.20,209.79 L396.51,209.72 L395.82,209.66 L395.13,209.60 L394.44,209.53 L393.75,209.47 L393.06,209.40 L392.37,209.34 L391.68,209.27 L390.99,209.20 L390.30,209.13 L389.61,209.06 L388.92,208.99 L388.23,208.92 L387.54,208.84 L386.85,208.77 L386.16,208.69 L385.47,208.62 L384.78,208.54 L384.09,208.46 L383.40,208.38 L382.71,208.30 L382.02,208.22 L381.33,208.14 L380.64,208.05 L379.95,207.97 L379.26,207.88 L378.57,207.80 L377.88,207.71 L377.19,207.62 L376.50,207.53 L375.80,207.44 L375.11,207.34 L374.42,207.25 L373.73,207.15 L373.04,207.06 L372.35,206.96 L371.66,206.86 L370.97,206.76 L370.28,206.66 L369.59,206.56 L368.90,206.45 L368.21,206.35 L367.52,206.24 L366.83,206.13 L366.14,206.02 L365.45,205.91 L364.76,205.80 L364.07,205.69 L363.38,205.57 L362.69,205.46 L362.00,205.34 L361.31,205.22 L360.62,205.10 L359.93,204.97 L359.24,204.85 L358.55,204.72 L357.86,204.59 L357.17,204.46 L356.48,204.33 L355.79,204.19 L355.10,204.06 L354.41,203.92 L353.72,203.78 L353.03,203.64 L352.34,203.50 L351.65,203.35 L350.96,203.21 L350.27,203.06 L349.58,202.91 L348.89,202.76 L348.20,202.61 L347.51,202.46 L346.82,202.30 L346.13,202.14 L345.44,201.98 L344.75,201.82 L344.06,201.66 L343.37,201.49 L342.68,201.33 L341.99,201.16 L341.30,200.99 L340.61,200.82 L339.92,200.64 L339.23,200.46 L338.54,200.29 L337.85,200.11 L337.16,199.92 L336.47,199.74 L335.78,199.55 L335.09,199.36 L334.40,199.17 L333.71,198.98 L333.02,198.78 L332.33,198.59 L331.64,198.39 L330.95,198.19 L330.26,197.98 L329.57,197.77 L328.88,197.57 L328.19,197.36 L327.50,197.14 L326.81,196.93 L326.12,196.71 L325.43,196.49 L324.74,196.27 L324.05,196.04 L323.36,195.81 L322.67,195.58 L321.98,195.35 L321.29,195.11 L320.61,194.88 L319.92,194.63 L319.23,194.39 L318.54,194.15 L317.85,193.90 L317.16,193.65 L316.47,193.39 L315.78,193.14 L315.09,192.88 L314.40,192.61 L313.71,192.35 L313.02,192.08 L312.33,191.81 L311.64,191.54 L310.95,191.26 L310.26,190.98 L309.57,190.70 L308.88,190.42 L308.19,190.13 L307.50,189.84 L306.81,189.54 L306.12,189.25 L305.43,188.95 L304.74,188.64 L304.05,188.34 L303.36,188.03 L302.67,187.71 L301.98,187.40 L301.29,187.08 L300.61,186.75 L299.92,186.43 L299.23,186.10 L298.54,185.76 L297.85,185.43 L297.16,185.09 L296.47,184.74 L295.78,184.40 L295.09,184.04 L294.40,183.69 L293.71,183.33 L293.02,182.97 L292.33,182.60 L291.64,182.23 L290.95,181.86 L290.27,181.48 L289.58,181.10 L288.89,180.72 L288.20,180.33 L287.51,179.93 L286.82,179.54 L286.13,179.14 L285.44,178.73 L284.75,178.33 L284.06,177.91 L283.37,177.50 L282.67,177.08 L281.98,176.65 L281.29,176.22 L280.60,175.79 L279.91,175.35 L279.22,174.91 L278.53,174.46 L277.84,174.01 L277.15,173.55 L276.46,173.09 L275.76,172.62 L275.07,172.15 L274.38,171.67 L273.69,171.19 L273.00,170.70 L272.31,170.20 L271.62,169.71 L270.93,169.20 L270.24,168.69 L269.54,168.18 L268.85,167.66 L268.16,167.13 L267.47,166.60 L266.78,166.06 L266.09,165.52 L265.40,164.97 L264.71,164.41 L264.02,163.85 L263.33,163.28 L262.63,162.71 L261.94,162.14 L261.25,161.55 L260.55,160.97 L259.86,160.37 L259.16,159.77 L258.47,159.16 L257.78,158.55 L257.08,157.93 L256.39,157.31 L255.69,156.67 L255.00,156.04 L254.31,155.39 L253.61,154.74 L252.92,154.08 L252.22,153.42 L251.53,152.75 L250.84,152.07 L250.14,151.39 L249.45,150.70 L248.75,150.00 L248.06,149.30 L247.37,148.59 L246.67,147.88 L245.98,147.16 L245.29,146.44 L244.59,145.71 L243.90,144.97 L243.21,144.23 L242.51,143.49 L241.82,142.74 L241.13,141.99 L240.43,141.23 L239.74,140.48 L239.05,139.71 L238.36,138.95 L237.67,138.18 L236.97,137.40 L236.28,136.63 L235.59,135.86 L234.90,135.08 L234.21,134.30 L233.52,133.52 L232.83,132.74 L232.14,131.97 L231.45,131.19 L230.76,130.41 L230.07,129.64 L229.38,128.86 L228.69,128.09 L228.00,127.32 L227.31,126.54 L226.62,125.77 L225.93,125.01 L225.24,124.24 L224.55,123.48 L223.86,122.71 L223.17,121.95 L222.48,121.19 L221.79,120.43 L221.10,119.68 L220.41,118.92 L219.72,118.17 L219.03,117.42 L218.34,116.67 L217.65,115.93 L216.96,115.18 L216.27,114.44 L215.58,113.70 L214.89,112.96 L214.20,112.23 L213.52,111.50 L212.83,110.77 L212.14,110.04 L211.45,109.31 L210.75,108.59 L210.06,107.87 L209.37,107.16 L208.68,106.44 L207.98,105.74 L207.29,105.03 L206.60,104.33 L205.91,103.63 L205.22,102.94 L204.52,102.26 L203.83,101.58 L203.14,100.90 L202.45,100.24 L201.76,99.58 L201.07,98.93 L200.38,98.28 L199.69,97.65 L199.01,97.02 L198.32,96.41 L197.63,95.80 L196.94,95.21 L196.26,94.62 L195.57,94.05 L194.89,93.49 L194.20,92.95 L193.52,92.41 L192.84,91.89 L192.15,91.40 L191.46,90.92 L190.77,90.45 L190.09,90.00 L189.40,89.57 L188.72,89.16 L188.04,88.77 L187.37,88.39 L186.69,88.04 L186.02,87.71 L185.35,87.40 L184.68,87.11 L184.02,86.84 L183.36,86.60 L182.70,86.38 L182.05,86.19 L181.40,86.02 L180.76,85.88 L180.12,85.76 L179.48,85.67 L178.85,85.59 L178.22,85.52 L177.59,85.47 L176.97,85.46 L176.34,85.47 L175.71,85.51 L175.09,85.58 L174.46,85.68 L173.83,85.81 L173.20,85.97 L172.56,86.16 L171.92,86.38 L171.28,86.64 L170.64,86.93 L169.99,87.25 L169.34,87.61 L168.68,88.00 L168.03,88.43 L167.37,88.90 L166.70,89.40 L166.04,89.94 L165.37,90.51 L164.70,91.13 L164.02,91.78 L163.35,92.46 L162.67,93.19 L161.99,93.95 L161.30,94.74 L160.61,95.57 L159.91,96.43 L159.21,97.32 L158.50,98.26 L157.80,99.22 L157.09,100.23 L156.39,101.26 L155.68,102.34 L154.97,103.44 L154.26,104.58 L153.56,105.75 L152.85,106.95 L152.13,108.18 L151.44,109.45 L150.75,110.75 L150.07,112.07 L149.38,113.43 L148.69,114.81 L148.00,116.21 L147.31,117.64 L146.62,119.08 L145.93,120.55 L145.24,122.04 L144.55,123.55 L143.86,125.08 L143.17,126.62 L142.48,128.18 L141.79,129.75 L141.10,131.34 L140.41,132.93 L139.72,134.54 L139.03,136.15 L138.34,137.78 L137.65,139.41 L136.96,141.06 L136.27,142.71 L135.58,144.37 L134.89,146.04 L134.20,147.72 L133.51,149.41 L132.82,151.10 L132.13,152.80 L131.44,154.51 L130.75,156.22 L130.06,157.93 L129.37,159.65 L128.68,161.36 L127.99,163.08 L127.29,164.79 L126.60,166.51 L125.91,168.21 L125.22,169.91 L124.53,171.60 L123.84,173.28 L123.15,174.95 L122.46,176.60 L121.76,178.24 L121.07,179.86 L120.38,181.46 L119.69,183.04 L119.00,184.59 L118.30,186.12 L117.61,187.63 L116.92,189.11 L116.22,190.55 L115.53,191.97 L114.84,193.35 L114.14,194.70 L113.45,196.02 L112.76,197.30 L112.06,198.54 L111.37,199.74 L110.67,200.91 L109.98,202.04 L109.28,203.12 L108.59,204.17 L107.89,205.18 L107.20,206.15 L106.50,207.08 L105.80,207.96 L105.10,208.81 L104.41,209.62 L103.71,210.39 L103.01,211.12 L102.31,211.81 L101.61,212.47 L100.90,213.08 L100.20,213.67 L99.50,214.21 L98.79,214.73 L98.09,215.21 L97.39,215.66 L96.68,216.07 L95.98,216.46 L95.27,216.82 L94.57,217.16 L93.86,217.47 L93.16,217.75 L92.45,218.01 L91.75,218.25 L91.05,218.47 L90.34,218.67 L89.64,218.85 L88.94,219.02 L88.24,219.17 L87.54,219.30 L86.84,219.42 L86.14,219.53 L85.45,219.63 L84.75,219.72 L84.05,219.80 L83.36,219.87Z" fill="#000"/>
<g stroke="#000" fill="none">
<path d="M53.2,0 V219.75 H426.9 V0" stroke-width="1.6" stroke-opacity="0.66" stroke-linejoin="miter"/>
<path d="M52.45,0.5 H427.65" stroke-width="1"/>
<path d="M99.91,219.75 v-4.8 M99.91,0.5 v4.4 M146.62,219.75 v-4.8 M146.62,0.5 v4.4 M193.34,219.75 v-4.8 M193.34,0.5 v4.4 M240.05,219.75 v-4.8 M240.05,0.5 v4.4 M286.76,219.75 v-4.8 M286.76,0.5 v4.4 M333.47,219.75 v-4.8 M333.47,0.5 v4.4 M380.19,219.75 v-4.8 M380.19,0.5 v4.4 M53.2,195.34 h2.7 M426.9,195.34 h-2.7 M53.2,170.93 h4.6 M426.9,170.93 h-4.6 M53.2,146.52 h2.7 M426.9,146.52 h-2.7 M53.2,122.11 h4.6 M426.9,122.11 h-4.6 M53.2,97.69 h2.7 M426.9,97.69 h-2.7 M53.2,73.28 h4.6 M426.9,73.28 h-4.6 M53.2,48.87 h2.7 M426.9,48.87 h-2.7 M53.2,24.46 h4.6 M426.9,24.46 h-4.6" stroke-width="1.2" stroke-opacity="0.75"/>
</g>
<defs><filter id="id" x="0" y="0" width="436" height="254" filterUnits="userSpaceOnUse" color-interpolation-filters="sRGB"><feOffset dx="0" dy="0"/></filter></defs>
<g filter="url(#id)" fill="#222" font-size="12px">
<text x="47.1" y="224.05" font-size="12.6px" text-anchor="end" textLength="28.2" lengthAdjust="spacingAndGlyphs">0.000</text>
<text x="47.1" y="175.23" font-size="12.6px" text-anchor="end" textLength="28.2" lengthAdjust="spacingAndGlyphs">0.010</text>
<text x="47.1" y="126.41" font-size="12.6px" text-anchor="end" textLength="28.2" lengthAdjust="spacingAndGlyphs">0.020</text>
<text x="47.1" y="77.58" font-size="12.6px" text-anchor="end" textLength="28.2" lengthAdjust="spacingAndGlyphs">0.030</text>
<text x="47.1" y="28.76" font-size="12.6px" text-anchor="end" textLength="28.2" lengthAdjust="spacingAndGlyphs">0.040</text>
<text x="53.20" y="236.5" text-anchor="middle" textLength="6.2" lengthAdjust="spacingAndGlyphs">0</text>
<text x="99.91" y="236.5" text-anchor="middle" textLength="12.2" lengthAdjust="spacingAndGlyphs">50</text>
<text x="146.62" y="236.5" text-anchor="middle" textLength="18.2" lengthAdjust="spacingAndGlyphs">100</text>
<text x="193.34" y="236.5" text-anchor="middle" textLength="18.2" lengthAdjust="spacingAndGlyphs">150</text>
<text x="240.05" y="236.5" text-anchor="middle" textLength="18.2" lengthAdjust="spacingAndGlyphs">200</text>
<text x="286.76" y="236.5" text-anchor="middle" textLength="18.2" lengthAdjust="spacingAndGlyphs">250</text>
<text x="333.47" y="236.5" text-anchor="middle" textLength="18.2" lengthAdjust="spacingAndGlyphs">300</text>
<text x="380.19" y="236.5" text-anchor="middle" textLength="18.2" lengthAdjust="spacingAndGlyphs">350</text>
<text x="426.90" y="236.5" text-anchor="middle" textLength="18.2" lengthAdjust="spacingAndGlyphs">400</text>
<text x="220.4" y="250.4" textLength="39" lengthAdjust="spacingAndGlyphs"><tspan font-style="italic">ω</tspan>[MeV]</text>
<g transform="translate(10.2,136.5) rotate(-90)" font-style="italic"><text x="0.2" y="0" font-size="12.5px" textLength="8.4" lengthAdjust="spacingAndGlyphs">R</text><text x="9.3" y="2.9" font-size="10px" textLength="10.4" lengthAdjust="spacingAndGlyphs">xx</text><path d="M22.1,2.8 L26.5,-9.7" stroke="#1c1c1c" stroke-width="0.8" fill="none"/><text x="27.1" y="0" font-size="12.5px" textLength="9.2" lengthAdjust="spacingAndGlyphs">C</text><text x="37.4" y="-4.4" font-size="9px" font-style="normal" textLength="4.1" lengthAdjust="spacingAndGlyphs">2</text><text x="36.6" y="3.4" font-size="9.5px" textLength="4.8" lengthAdjust="spacingAndGlyphs">p</text><text x="42.0" y="3.6" font-size="8.5px" font-style="normal">,</text><text x="45.6" y="3.7" font-size="9.5px" textLength="5.8" lengthAdjust="spacingAndGlyphs">E</text></g>
<text x="108.6" y="25.9" textLength="60" lengthAdjust="spacingAndGlyphs">World data</text>
<text x="108.8" y="40.3" textLength="35.6" lengthAdjust="spacingAndGlyphs">GFMC</text>
<text x="149.7" y="40.3" font-style="italic" font-size="12.5px" textLength="10.4" lengthAdjust="spacingAndGlyphs">O</text>
<text x="160.2" y="43.099999999999994" font-size="8.5px" textLength="9.4" lengthAdjust="spacingAndGlyphs">1<tspan font-style="italic">b</tspan></text>
<text x="108.8" y="54.4" textLength="35.6" lengthAdjust="spacingAndGlyphs">GFMC</text>
<text x="149.7" y="54.4" font-style="italic" font-size="12.5px" textLength="10.4" lengthAdjust="spacingAndGlyphs">O</text>
<text x="160.2" y="57.199999999999996" font-size="8.5px" textLength="25.8" lengthAdjust="spacingAndGlyphs">1<tspan font-style="italic">b</tspan>+2<tspan font-style="italic">b</tspan></text>
</g>
<g fill="none">
<path d="M72.9,22.6 H102.4 M72.9,19.9 v5.4 M102.4,19.9 v5.4" stroke="#0000ff" stroke-width="1.1"/>
<circle cx="87.65" cy="22.6" r="2.0" stroke="#0000ff" stroke-width="1.1" fill="#fff"/>
<path d="M72.9,37.3 H101" stroke="#ff0000" stroke-width="1.0" stroke-dasharray="4.5 1.3"/>
<path d="M72.9,51.9 H102.2" stroke="#000" stroke-width="1.5" stroke-opacity="0.72"/>
</g>
</svg></body></html>
